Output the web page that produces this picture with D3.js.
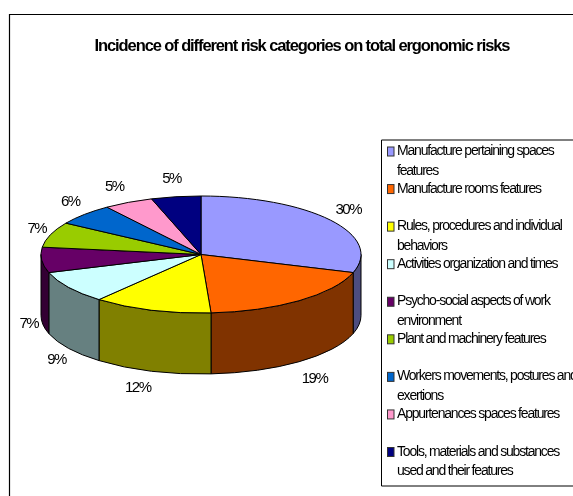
<!DOCTYPE html>
<html><head><meta charset="utf-8">
<script src="https://cdn.jsdelivr.net/npm/d3@7"></script>
<style>
html,body{margin:0;padding:0;background:#fff;overflow:hidden}
svg{display:block;filter:blur(0.35px)}
text{font-family:"Liberation Sans",Arial,sans-serif;fill:#000}
</style></head><body>
<svg id="c" width="573" height="496"></svg>
<script>
const title = "Incidence of different risk categories on total ergonomic risks";
const categories = [
  ["Manufacture pertaining spaces","features"],
  ["Manufacture rooms features"],
  ["Rules, procedures and individual","behaviors"],
  ["Activities organization and times"],
  ["Psycho-social aspects of work","environment"],
  ["Plant and machinery features"],
  ["Workers movements, postures and","exertions"],
  ["Appurtenances spaces features"],
  ["Tools, materials and substances","used and their features"]
];
const values = [30,19,12,9,7,7,6,5,5];
const topColors = ["#9999FF","#FF6600","#FFFF00","#CCFFFF","#660066","#99CC00","#0066CC","#FF99CC","#000080"];
const sideColors = ["#4D4D80","#803300","#808000","#668080","#330033","#4D6600","#003366","#804D66","#000040"];

const W=573,H=496, cx=201, cy=254.5, rx=160, ry=58.5, depth=61;
const svg=d3.select("#c");
svg.append("path").attr("d",`M9.5 496V14.5H573`).attr("fill","none").attr("stroke","#000").attr("stroke-width",1.2);
svg.append("text").attr("x",302).attr("y",51).attr("text-anchor","middle")
  .attr("font-size",16.5).attr("font-weight","bold").attr("letter-spacing",-1.1).text(title);

const arcs=d3.pie().sort(null)(values);
const px=a=>cx+rx*Math.sin(a), py=a=>cy-ry*Math.cos(a);
const g=svg.append("g");
// side walls: only the front half of the disc is visible
arcs.forEach((d,i)=>{
  const a0=Math.max(d.startAngle,Math.PI/2), a1=Math.min(d.endAngle,3*Math.PI/2);
  if(a1<=a0) return;
  g.append("path")
   .attr("d",`M${px(a0)} ${py(a0)}A${rx} ${ry} 0 0 1 ${px(a1)} ${py(a1)}L${px(a1)} ${py(a1)+depth}A${rx} ${ry} 0 0 0 ${px(a0)} ${py(a0)+depth}Z`)
   .attr("fill",sideColors[i]).attr("stroke","#000").attr("stroke-width",1);
});
// top face: a d3 arc squashed to an ellipse
const arc=d3.arc().innerRadius(0).outerRadius(rx);
g.append("g").attr("transform",`translate(${cx},${cy}) scale(1,${ry/rx})`)
 .selectAll("path").data(arcs).join("path")
 .attr("d",arc).attr("fill",(d,i)=>topColors[i])
 .attr("stroke","#000").attr("stroke-width",1).attr("vector-effect","non-scaling-stroke");

// percentage labels
const total=d3.sum(values);
const nudgeX=[0,2,-7,6,9,7,2,-4,-1], nudgeY=[0,1,-3,0,0,0,0,1,1];
svg.append("g").selectAll("text").data(arcs).join("text")
 .attr("text-anchor","middle").attr("font-size",15).attr("letter-spacing",-1.5)
 .attr("x",(d,i)=>{const m=(d.startAngle+d.endAngle)/2;return cx+182*Math.sin(m)+nudgeX[i];})
 .attr("y",(d,i)=>{const m=(d.startAngle+d.endAngle)/2,c=Math.cos(m);return cy-78*c+(c<0?depth:0)+5+nudgeY[i];})
 .text(d=>Math.round(d.value/total*100)+"%");

// legend
svg.append("path").attr("d","M573 140H381.5V486H573").attr("fill","none").attr("stroke","#000").attr("stroke-width",1);
const rowY=d3.scaleLinear().domain([0,categories.length-1]).range([151.5,452]);
const lg=svg.append("g").selectAll("g").data(categories).join("g")
 .attr("transform",(d,i)=>`translate(387,${rowY(i)})`);
lg.append("rect").attr("x",0.5).attr("y",-4.5).attr("width",6.5).attr("height",9)
 .attr("fill",(d,i)=>topColors[i]).attr("stroke","#333").attr("stroke-width",1);
lg.each(function(lines){
  d3.select(this).selectAll("text").data(lines).join("text")
   .attr("x",10).attr("y",(d,j)=>3.5+j*19.5)
   .attr("font-size",14).attr("letter-spacing",-1.2).text(d=>d);
});
</script></body></html>
